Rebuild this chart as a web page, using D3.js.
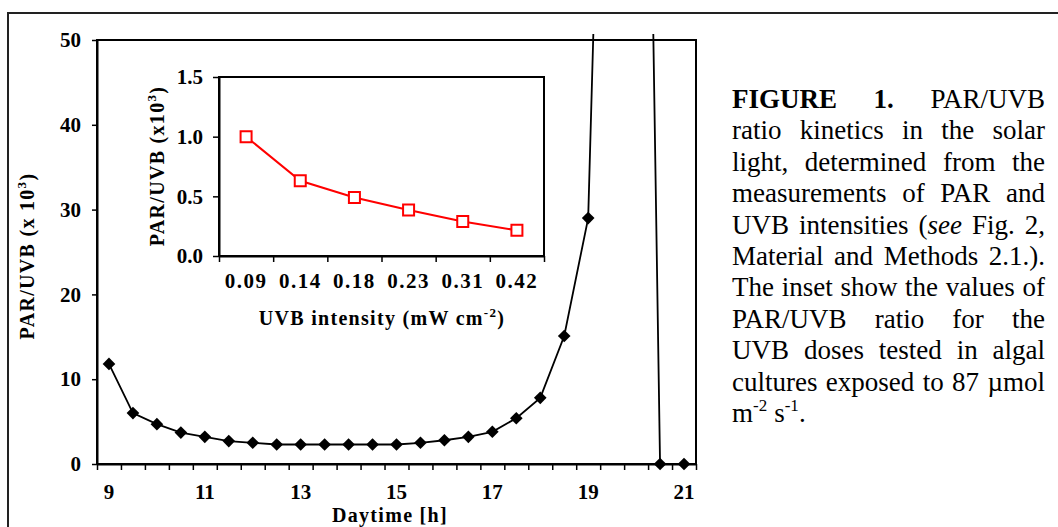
<!DOCTYPE html>
<html>
<head>
<meta charset="utf-8">
<script src="https://cdnjs.cloudflare.com/ajax/libs/d3/7.8.5/d3.min.js"></script>
<style>
  body { margin: 0; background: #fff; }
  svg { display: block; }
  text { font-family: "Liberation Serif", "Times New Roman", serif; fill: #000; }
  .axis text { font-weight: bold; font-size: 21px; }
  .axis path, .axis line { stroke: #000; }
  .title { font-weight: bold; font-size: 20px; letter-spacing: 1.3px; }
  .caption text { font-size: 27px; }
</style>
</head>
<body>
<div id="wrapper"></div>
<script>
// main chart: PAR/UVB ratio over the day (x 10^3)
const hours = [9, 9.5, 10, 10.5, 11, 11.5, 12, 12.5, 13, 13.5, 14, 14.5, 15,
  15.5, 16, 16.5, 17, 17.5, 18, 18.5, 19, 19.5, 20, 20.5, 21]
const ratioByHour = [11.8, 6.0, 4.7, 3.7, 3.2, 2.7, 2.5, 2.3, 2.3, 2.3, 2.3, 2.3, 2.3,
  2.5, 2.8, 3.2, 3.8, 5.4, 7.8, 15.1, 29.0, 130, 180, 0, 0]
const hourLabels = [9, 11, 13, 15, 17, 19, 21]
const mainYTicks = [0, 10, 20, 30, 40, 50]

// inset: PAR/UVB ratio for the tested UVB intensities
const uvbIntensities = ["0.09", "0.14", "0.18", "0.23", "0.31", "0.42"]
const ratioByIntensity = [1.0, 0.63, 0.49, 0.385, 0.29, 0.215]
const insetYTicks = [0, 0.5, 1.0, 1.5]

const captionLines = [
  "*FIGURE* *1.* PAR/UVB",
  "ratio kinetics in the solar",
  "light, determined from the",
  "measurements of PAR and",
  "UVB intensities (_see_ Fig. 2,",
  "Material and Methods 2.1.).",
  "The inset show the values of",
  "PAR/UVB ratio for the",
  "UVB doses tested in algal",
  "cultures exposed to 87 \u00b5mol",
  "m^-2^ s^-1^.",
]

const width = 1058
const height = 527

const svg = d3.select("#wrapper")
  .append("svg")
  .attr("width", width)
  .attr("height", height)

// chart area frame (runs off the right and bottom edge)
svg.append("rect")
  .attr("x", 8)
  .attr("y", 13)
  .attr("width", 1200)
  .attr("height", 700)
  .attr("fill", "none")
  .attr("stroke", "#222")
  .attr("stroke-width", 2)

// writes runs like "PAR/UVB (x 10^3^)" into a text node, with superscripts
function addRuns(textSel, str, supShift, supSize) {
  const parts = str.split(/(\*[^*]+\*|_[^_]+_|\^[^^]+\^)/).filter(s => s.length)
  let shifted = false
  parts.forEach(p => {
    const ts = textSel.append("tspan")
    let t = p
    let sup = false
    if (p[0] == "*") { t = p.slice(1, -1); ts.attr("font-weight", "bold") }
    else if (p[0] == "_") { t = p.slice(1, -1); ts.attr("font-style", "italic") }
    else if (p[0] == "^") { t = p.slice(1, -1); sup = true; ts.attr("font-size", supSize) }
    if (sup && !shifted) { ts.attr("dy", -supShift); shifted = true }
    else if (!sup && shifted) { ts.attr("dy", supShift); shifted = false }
    ts.text(t)
  })
}

// ---------- main chart ----------
const main = { left: 97, right: 696, top: 40, bottom: 464 }

const xScale = d3.scaleBand()
  .domain(hours)
  .range([main.left, main.right])
  .padding(0)
const xCenter = h => xScale(h) + xScale.bandwidth() / 2

const edgeScale = d3.scaleLinear()
  .domain([0, hours.length])
  .range([main.left, main.right])

const yScale = d3.scaleLinear()
  .domain([0, 50])
  .range([main.bottom, main.top])

svg.append("rect")
  .attr("x", main.left)
  .attr("y", main.top)
  .attr("width", main.right - main.left)
  .attr("height", main.bottom - main.top)
  .attr("fill", "none")
  .attr("stroke", "#000")
  .attr("stroke-width", 2)

const yAxis = svg.append("g")
  .attr("class", "axis")
  .attr("transform", `translate(${main.left},0)`)
  .call(d3.axisLeft(yScale)
    .tickValues(mainYTicks)
    .tickFormat(d3.format("d"))
    .tickSize(5)
    .tickSizeOuter(0)
    .tickPadding(11))
yAxis.select(".domain").attr("stroke-width", 2)
yAxis.selectAll(".tick line").attr("stroke-width", 1.5)

const xTicks = svg.append("g")
  .attr("class", "axis")
  .attr("transform", `translate(0,${main.bottom})`)
  .call(d3.axisBottom(edgeScale)
    .tickValues(d3.range(0, hours.length + 1))
    .tickFormat("")
    .tickSize(6)
    .tickSizeOuter(0))
xTicks.select(".domain").attr("stroke-width", 2)
xTicks.selectAll(".tick line").attr("stroke-width", 1.5)

const xLabels = svg.append("g")
  .attr("class", "axis")
  .attr("transform", `translate(0,${main.bottom})`)
  .call(d3.axisBottom(xScale)
    .tickValues(hourLabels)
    .tickSize(0)
    .tickPadding(20))
xLabels.select(".domain").remove()

svg.append("defs").append("clipPath")
  .attr("id", "main-clip")
  .append("rect")
  .attr("x", main.left)
  .attr("y", 34)
  .attr("width", main.right - main.left)
  .attr("height", main.bottom - 34 + 10)

const mainData = hours.map((h, i) => ({ hour: h, ratio: ratioByHour[i] }))

const series = svg.append("g").attr("clip-path", "url(#main-clip)")

series.append("path")
  .datum(mainData)
  .attr("fill", "none")
  .attr("stroke", "#000")
  .attr("stroke-width", 1.8)
  .attr("d", d3.line()
    .x(d => xCenter(d.hour))
    .y(d => yScale(d.ratio)))

svg.append("g")
  .selectAll("path")
  .data(mainData.filter(d => d.ratio <= 50))
  .join("path")
  .attr("transform", d => `translate(${xCenter(d.hour)},${yScale(d.ratio)}) rotate(45)`)
  .attr("d", d3.symbol(d3.symbolSquare, 80))
  .attr("fill", "#000")

svg.append("text")
  .attr("class", "title")
  .attr("text-anchor", "middle")
  .attr("transform", `translate(34,256) rotate(-90)`)
  .call(t => addRuns(t, "PAR/UVB (x 10^3^)", 8, 13))

svg.append("text")
  .attr("class", "title")
  .attr("text-anchor", "middle")
  .attr("x", 390)
  .attr("y", 522)
  .text("Daytime [h]")

// ---------- inset ----------
const inset = { left: 219, right: 544, top: 77, bottom: 256 }

const x2 = d3.scaleBand()
  .domain(uvbIntensities)
  .range([inset.left, inset.right])
  .padding(0)
const x2Center = d => x2(d) + x2.bandwidth() / 2

const y2 = d3.scaleLinear()
  .domain([0, 1.5])
  .range([inset.bottom, inset.top])

svg.append("rect")
  .attr("x", inset.left)
  .attr("y", inset.top)
  .attr("width", inset.right - inset.left)
  .attr("height", inset.bottom - inset.top)
  .attr("fill", "#fff")
  .attr("stroke", "#000")
  .attr("stroke-width", 2)

const y2Axis = svg.append("g")
  .attr("class", "axis")
  .attr("transform", `translate(${inset.left},0)`)
  .call(d3.axisLeft(y2)
    .tickValues(insetYTicks)
    .tickFormat(d3.format(".1f"))
    .tickSize(6)
    .tickSizeOuter(0)
    .tickPadding(10))
y2Axis.select(".domain").attr("stroke-width", 2)
y2Axis.selectAll(".tick line").attr("stroke-width", 1.5)

const insetEdges = d3.scaleLinear()
  .domain([0, uvbIntensities.length])
  .range([inset.left, inset.right])

const x2Ticks = svg.append("g")
  .attr("class", "axis")
  .attr("transform", `translate(0,${inset.bottom})`)
  .call(d3.axisBottom(insetEdges)
    .tickValues(d3.range(0, uvbIntensities.length + 1))
    .tickFormat("")
    .tickSize(6)
    .tickSizeOuter(0))
x2Ticks.select(".domain").attr("stroke-width", 2)
x2Ticks.selectAll(".tick line").attr("stroke-width", 1.5)

const x2Labels = svg.append("g")
  .attr("class", "axis")
  .attr("transform", `translate(0,${inset.bottom})`)
  .call(d3.axisBottom(x2)
    .tickSize(0)
    .tickPadding(17))
x2Labels.select(".domain").remove()
x2Labels.selectAll("text").attr("letter-spacing", 1.5)

const insetData = uvbIntensities.map((u, i) => ({ uvb: u, ratio: ratioByIntensity[i] }))

svg.append("path")
  .datum(insetData)
  .attr("fill", "none")
  .attr("stroke", "#ff0000")
  .attr("stroke-width", 2)
  .attr("d", d3.line()
    .x(d => x2Center(d.uvb))
    .y(d => y2(d.ratio)))

svg.append("g")
  .selectAll("path")
  .data(insetData)
  .join("path")
  .attr("transform", d => `translate(${x2Center(d.uvb)},${y2(d.ratio)})`)
  .attr("d", d3.symbol(d3.symbolSquare, 121))
  .attr("fill", "#fff")
  .attr("stroke", "#ff0000")
  .attr("stroke-width", 2)

svg.append("text")
  .attr("class", "title")
  .attr("text-anchor", "middle")
  .attr("transform", `translate(164,166) rotate(-90)`)
  .call(t => addRuns(t, "PAR/UVB (x10^3^)", 8, 13))

svg.append("text")
  .attr("class", "title")
  .attr("text-anchor", "middle")
  .attr("x", 382)
  .attr("y", 325)
  .call(t => addRuns(t, "UVB intensity (mW cm^-2^)", 8, 13))

// ---------- caption, justified ----------
const caption = svg.append("g").attr("class", "caption")
const capLeft = 732
const capRight = 1045
const capTop = 108
const capStep = 31.4

captionLines.forEach((line, li) => {
  const y = capTop + li * capStep
  const words = line.split(" ")
  const nodes = words.map(w => {
    const t = caption.append("text").attr("y", y)
    addRuns(t, w, 11, 17)
    return t
  })
  const widths = nodes.map(n => n.node().getComputedTextLength())
  const total = d3.sum(widths)
  const last = li == captionLines.length - 1
  const gap = last || words.length < 2 ? 7 : (capRight - capLeft - total) / (words.length - 1)
  let x = capLeft
  nodes.forEach((n, i) => {
    n.attr("x", x)
    n.selectAll("tspan").filter((d, j) => j == 0).attr("x", x)
    x += widths[i] + gap
  })
})
</script>
</body>
</html>
